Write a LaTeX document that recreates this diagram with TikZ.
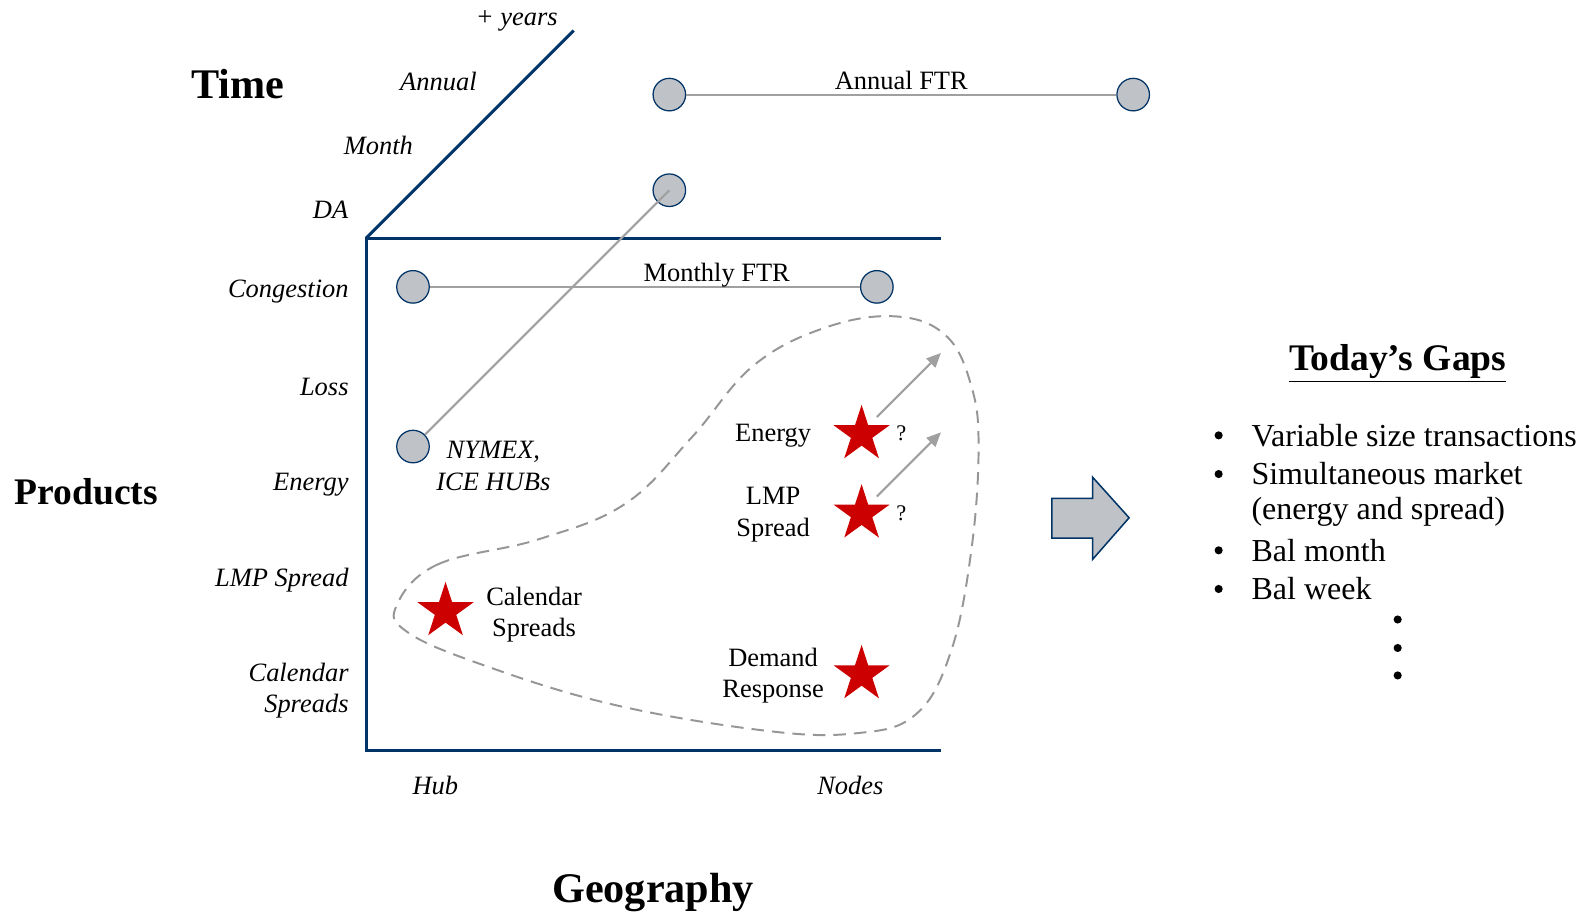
\documentclass[tikz,border=0pt]{standalone}
\usepackage{fontspec}
\setmainfont{Liberation Serif}
\usetikzlibrary{shapes.geometric,arrows.meta}

\definecolor{navy}{RGB}{0,51,102}
\definecolor{dotgray}{RGB}{191,194,199}
\definecolor{linegray}{RGB}{160,160,160}
\definecolor{dashgray}{RGB}{150,150,150}
\definecolor{starred}{RGB}{204,0,0}

\begin{document}
\begin{tikzpicture}[
    axis/.style={draw=navy,line width=1.7pt},
    dot/.style={circle,draw=navy,line width=0.7pt,fill=dotgray,minimum size=0.64cm,inner sep=0pt},
    link/.style={draw=linegray,line width=1.2pt},
    gapstar/.style={star,star points=5,star point ratio=2.618,fill=starred,minimum size=1.16cm,inner sep=0pt},
    lbl/.style={font=\fontsize{14.8}{17.6}\selectfont,align=center},
    ilbl/.style={font=\fontsize{14.8}{17.6}\selectfont\itshape,align=right,inner sep=0pt},
    big/.style={font=\fontsize{23.6}{28}\selectfont\bfseries},
    item/.style={font=\fontsize{17.9}{21}\selectfont,inner sep=0pt},
    pt/.style={circle,fill=black,minimum size=0.16cm,inner sep=0pt}]

  \useasboundingbox (0,0) rectangle (31.36,-17.92);

  % axes
  \coordinate (o) at (7.2,-4.68);
  \draw[axis] (11.28,-0.6) -- (o);
  \draw[axis,line join=miter] (18.5,-4.68) -- (o) -- (7.2,-14.76) -- (18.5,-14.76);

  \draw (4.68,-1.66) node[big] (time) {Time};
  \draw (1.7,-9.66) node[big,font=\fontsize{21}{25}\selectfont\bfseries] (prod) {Products};
  \draw (12.84,-17.54) node[big] (geo) {Geography};

  \draw (10.16,-0.42) node[ilbl] (yrs) {+ years};
  \draw (8.62,-1.6) node[ilbl] (annual) {Annual};
  \draw (7.44,-2.86) node[ilbl] (month) {Month};
  \draw (6.5,-4.12) node[ilbl] (da) {DA};

  \draw (6.86,-5.74) node[ilbl,anchor=east] (cong) {Congestion};
  \draw (6.86,-7.6) node[ilbl,anchor=east] (loss) {Loss};
  \draw (6.86,-9.52) node[ilbl,anchor=east] (energy) {Energy};
  \draw (6.86,-11.4) node[ilbl,anchor=east] (lmp) {LMP Spread};
  \draw (6.86,-13.58) node[ilbl,anchor=east] (cal) {Calendar\\Spreads};

  \draw (8.56,-15.44) node[ilbl] (hub) {Hub};
  \draw (16.72,-15.44) node[ilbl] (nodes) {Nodes};

  % FTR dots
  \draw (13.16,-1.86) node[dot] (an1) {};
  \draw (22.28,-1.86) node[dot] (an2) {};
  \draw (13.16,-3.74) node[dot] (da1) {};
  \draw (8.12,-5.64) node[dot] (mo1) {};
  \draw (17.24,-5.64) node[dot] (mo2) {};
  \draw (8.12,-8.78) node[dot] (nymex) {};
    \path[link] (an1) edge node[lbl,anchor=base,yshift=3pt] (annftr) {Annual FTR} (an2);
    \path[link] (mo1) edge node[lbl,pos=0.667,anchor=base,yshift=3pt] (monftr) {Monthly FTR} (mo2);
    \path[link] (da1.center) edge (nymex);
  \draw (9.7,-9.16) node[ilbl,align=center] (hubs) {NYMEX,\\ICE HUBs};

  % gaps
  \draw[dashgray,dashed,line width=1.1pt,dash pattern=on 7pt off 4.5pt]
    plot[smooth cycle,tension=0.65] coordinates {(7.8,-11.9) (8.6,-11.1) (10.6,-10.6) (12.3,-9.9)
      (13.6,-8.6) (14.8,-7.2) (16.2,-6.45) (17.6,-6.22) (18.6,-6.6) (19.1,-7.6) (19.24,-8.8)
      (19.1,-10.8) (18.7,-12.8) (18.0,-14.05) (16.8,-14.42) (15.0,-14.36) (12.0,-13.84) (9.4,-13.04) (8.0,-12.42)};

  \draw (16.94,-8.54) node[gapstar] (estar) {};
  \draw (16.94,-10.1) node[gapstar] (lstar) {};
  \draw (8.76,-12.02) node[gapstar] (cstar) {};
  \draw (16.94,-13.26) node[gapstar] (dstar) {};

  \draw (15.2,-8.56) node[lbl] (elbl) {Energy};
  \draw (15.2,-10.12) node[lbl] (llbl) {LMP\\Spread};
  \draw (10.5,-12.08) node[lbl] (clbl) {Calendar\\Spreads};
  \draw (15.2,-13.28) node[lbl] (dlbl) {Demand\\Response};
  \draw (17.72,-8.52) node[font=\fontsize{12.5}{14}\selectfont] (q1) {?};
  \draw (17.72,-10.1) node[font=\fontsize{12.5}{14}\selectfont] (q2) {?};

  \coordinate (etail) at (17.24,-8.2);
  \coordinate (ehead) at (18.5,-6.94);
  \coordinate (ltail) at (17.24,-9.76);
  \coordinate (lhead) at (18.5,-8.5);
    \draw[link,-{Triangle[length=8pt,width=7pt]}] (etail) -- (ehead);
    \draw[link,-{Triangle[length=8pt,width=7pt]}] (ltail) -- (lhead);

  % block arrow
  \draw[navy,line width=0.85pt,fill=dotgray] (20.68,-9.8) -- (21.48,-9.8) -- (21.48,-9.38) -- (22.2,-10.18)
    -- (21.48,-11.0) -- (21.48,-10.58) -- (20.68,-10.58) -- cycle;

  % today's gaps
  \draw (27.48,-7.14) node[big,font=\fontsize{21}{25}\selectfont\bfseries] (title) {\underline{Today’s Gaps}};
  \foreach \y/\txt [count=\i] in {8.56/Variable size transactions, 9.32/Simultaneous market,
      10.82/Bal month, 11.58/Bal week} {
    \draw (23.96,-\y) node[pt] (bul\i) {};
    \draw (24.6,-\y) node[item,anchor=west] (item\i) {\txt};
  }
  \draw (24.6,-10.06) node[item,anchor=west] (item5) {(energy and spread)};
  \foreach \y [count=\i] in {12.18,12.74,13.28}
    \draw (27.48,-\y) node[pt] (more\i) {};

\end{tikzpicture}
\end{document}
